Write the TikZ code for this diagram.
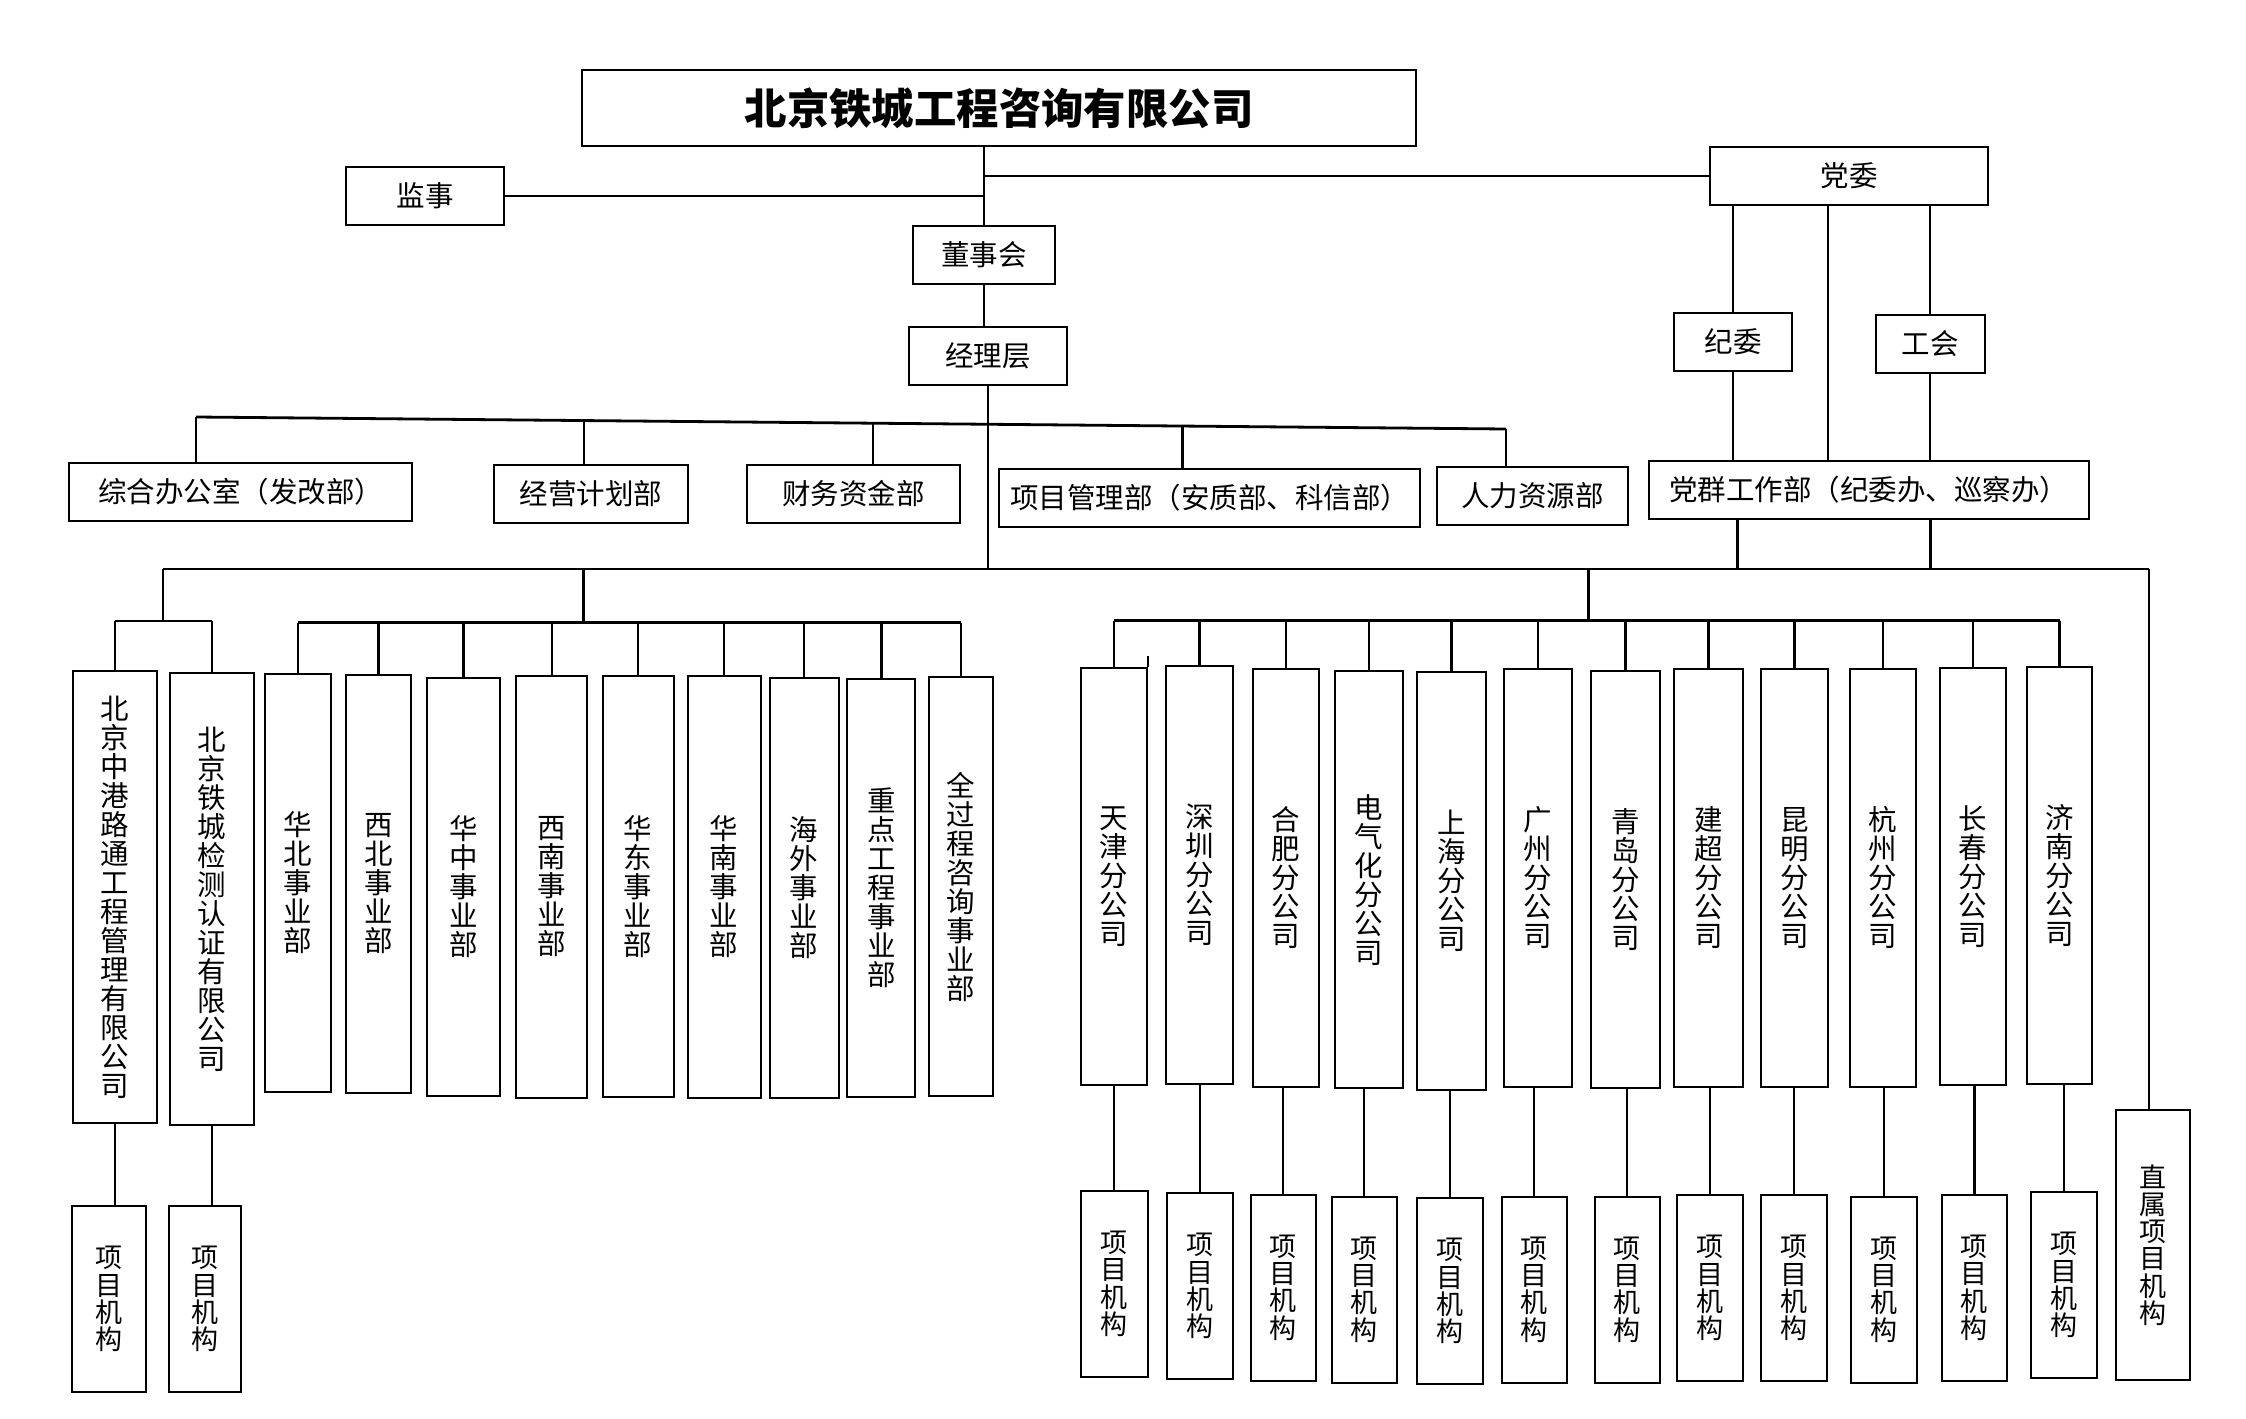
\documentclass[tikz,border=0pt]{standalone}
\usepackage{fontspec}
\setmainfont{Noto Sans CJK SC}
\usetikzlibrary{positioning,calc}

\tikzset{
  box/.style={draw, line width=1pt, inner sep=0pt, align=center, font=\fontsize{14.25pt}{14.5pt}\selectfont},
  pbox/.style={box, font=\fontsize{13.5pt}{13.6pt}\selectfont},
  link/.style={line width=1.1pt},
  bus/.style={line width=1.4pt},
  sz/.style 2 args={minimum width=#1*0.5pt, minimum height=#2*0.5pt},
}

\begin{document}
\begin{tikzpicture}[x=0.5pt, y=-0.5pt]
    \useasboundingbox (0,0) rectangle (2246,1418);

    % Top level
    \node[box, sz={834}{75}, font=\fontsize{21.2pt}{24pt}\selectfont\bfseries] (gs) at (999,108) {北京铁城工程咨询有限公司};
    \node[box, sz={158}{58}] (js) at (425,196) {监事};
    \node[box, sz={142}{58}] (dsh) at (984,254.5) {董事会};
    \node[box, sz={158}{58}] (jlc) at (988,356) {经理层};
    \node[box, sz={278}{58}] (dw) at (1849,176) {党委};
    \node[box, sz={118}{58}] (jw) at (1733,342) {纪委};
    \node[box, sz={109}{58}] (gh) at (1930,344) {工会};
    \node[box, sz={440}{58}] (dq) at (1868.5,490) {党群工作部（纪委办、巡察办）};

    \draw[link] (gs.south -| dsh) -- (dsh.north);
    \draw[link] (js.east) -- (js.east -| dsh);
    \draw[link] (dw.west) -- (dw.west -| dsh);
    \draw[link] (dsh.south) -- (dsh.south |- jlc.north);

    % Party side
    \coordinate (mid) at (1828,0);
    \draw[link] (dw.south -| jw) -- (jw.north);
    \draw[link] (dw.south -| gh) -- (gh.north);
    \draw[link] (dw.south -| mid) -- (dq.north -| mid);
    \draw[link] (jw.south) -- (jw.south |- dq.north);
    \draw[link] (gh.south) -- (gh.south |- dq.north);

    % Departments
    \foreach \nm/\x/\y/\w/\txt in {zh/240.5/492/343/综合办公室（发改部）, jy/591/494/194/经营计划部, cw/853.5/494/213/财务资金部, xm/1209.5/498/421/项目管理部（安质部、科信部）, rl/1532.5/496/191/人力资源部} {
        \node[box, sz={\w}{58}] (\nm) at (\x,\y) {\txt};
    }
    \coordinate (dl) at (196,417);
    \coordinate (dr) at (1506,429);
    \draw[bus] (dl) -- (dr);
    \draw[link] (dl) -- (dl |- zh.north);
    \draw[link] (dr) -- (dr |- rl.north);
    \foreach \nm/\t in {jy/0.296, cw/0.517, xm/0.753} {
        \coordinate (t\nm) at ($(dl)!\t!(dr)$);
        \draw[link] (t\nm) -- (t\nm |- \nm.north);
    }

    % Main bus
    \coordinate (mbl) at (162.6,569);
    \coordinate (mbr) at (2149,569);
    \coordinate (q1) at (1737.5,0);
    \coordinate (q2) at (1930.5,0);
    \draw[bus] (mbl) -- (mbr);
    \draw[link] (jlc.south) -- (jlc.south |- mbl);
    \draw[link] (dq.south -| q1) -- (mbl -| q1);
    \draw[link] (dq.south -| q2) -- (mbl -| q2);

    % Subsidiaries
    \node[box, sz={84}{452.5}] (zg) at (115,897) {北\\京\\中\\港\\路\\通\\工\\程\\管\\理\\有\\限\\公\\司};
    \node[box, sz={84}{452.5}] (tc) at (212,899) {北\\京\\铁\\城\\检\\测\\认\\证\\有\\限\\公\\司};
    \coordinate (sb) at (0,621);
    \draw[link] (mbl) -- (mbl |- sb);
    \draw[bus] (zg.north |- sb) -- (tc.north |- sb);
    \draw[link] (zg.north |- sb) -- (zg.north);
    \draw[link] (tc.north |- sb) -- (tc.north);
    \node[pbox, sz={74}{186}] (pzg) at (109,1299) {项\\目\\机\\构};
    \node[pbox, sz={72}{186}] (ptc) at (204.5,1299) {项\\目\\机\\构};
    \draw[link] (zg.south) -- (zg.south |- pzg.north);
    \draw[link] (tc.south) -- (tc.south |- ptc.north);

    % Business divisions
    \coordinate (db) at (583.5,622.7);
    \draw[link] (db |- mbl) -- (db);
    \foreach \i/\x/\y/\w/\h/\txt in {1/298/883/66/418/{华\\北\\事\\业\\部}, 2/378.5/883.6/65/418/{西\\北\\事\\业\\部}, 3/463.4/887/73/418/{华\\中\\事\\业\\部}, 4/551.7/887/71/422/{西\\南\\事\\业\\部}, 5/638/886.5/71/421/{华\\东\\事\\业\\部}, 6/724/887/73/422/{华\\南\\事\\业\\部}, 7/804/887.7/69/420/{海\\外\\事\\业\\部}, 8/881.4/888/68/418/{重\\点\\工\\程\\事\\业\\部}, 9/961/886.5/64/419/{全\\过\\程\\咨\\询\\事\\业\\部}} {
        \node[box, sz={\w}{\h}] (d\i) at (\x,\y) {\txt};
        \draw[link] (d\i.north) -- (d\i.north |- db);
    }
    \draw[bus] (d1.north |- db) -- (d9.north |- db);

    % Branch companies
    \coordinate (fb) at (1588.5,620.5);
    \draw[link] (fb |- mbl) -- (fb);
    \foreach \i/\x/\y/\w/\h/\txt in {1/1113.8/876.4/66.5/417/{天\\津\\分\\公\\司}, 2/1199.5/875/67/418/{深\\圳\\分\\公\\司}, 3/1285.8/878/65.5/418/{合\\肥\\分\\公\\司}, 4/1369/879.7/68/417/{电\\气\\化\\分\\公\\司}, 5/1451.5/881.2/69/418/{上\\海\\分\\公\\司}, 6/1538/878/68.5/418/{广\\州\\分\\公\\司}, 7/1625.5/879.3/69/417.5/{青\\岛\\分\\公\\司}, 8/1708.5/877.8/69/417.5/{建\\超\\分\\公\\司}, 9/1794.5/877.8/67/417.5/{昆\\明\\分\\公\\司}, 10/1883/877.8/66.5/417.5/{杭\\州\\分\\公\\司}, 11/1973/876.5/66/417/{长\\春\\分\\公\\司}, 12/2059.5/875.4/65/417.3/{济\\南\\分\\公\\司}} {
        \node[box, sz={\w}{\h}] (f\i) at (\x,\y) {\txt};
        \draw[link] (f\i.north) -- (f\i.north |- fb);
    }
    \draw[bus] (f1.north |- fb) -- (f12.north |- fb);
    \draw[link] (f1.north east) -- ++(0,-11);

    % Project offices
    \foreach \i/\x/\y/\w in {1/1114.3/1283.9/66.6, 2/1199.9/1286/66.3, 3/1283/1287.7/65, 4/1364.3/1289.7/65.5, 5/1449.8/1291/65.5, 6/1534.3/1289.7/65.4, 7/1627.3/1289.7/65.4, 8/1710/1288/66, 9/1793.8/1288/65.5, 10/1883.8/1289.7/65.5, 11/1974.4/1287.9/65.3, 12/2063.8/1285/65.5} {
        \node[pbox, sz={\w}{186}] (pf\i) at (\x,\y) {项\\目\\机\\构};
        \draw[link] (pf\i.north) -- (pf\i.north |- f\i.south);
    }
    \node[pbox, sz={73.6}{270}] (zs) at (2152.8,1245) {直\\属\\项\\目\\机\\构};
    \draw[link] (mbr) -- (mbr |- zs.north);

\end{tikzpicture}
\end{document}
